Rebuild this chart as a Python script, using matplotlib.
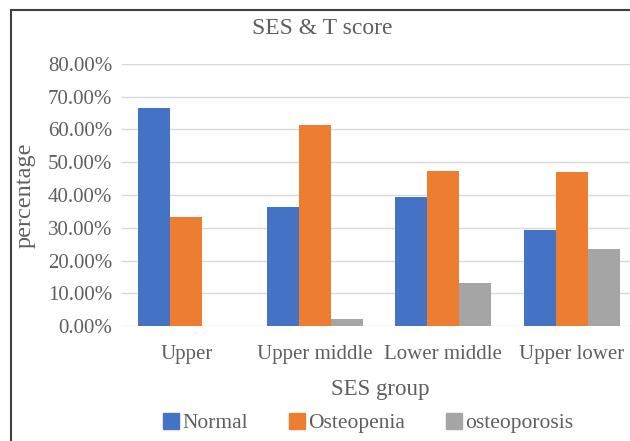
import matplotlib
matplotlib.use("Agg")
import matplotlib.pyplot as plt
import numpy as np
from matplotlib.patches import Rectangle
from matplotlib.lines import Line2D

categories = ["Upper", "Upper middle", "Lower middle", "Upper lower"]
normal = [66.67, 36.36, 39.47, 29.41]
osteopenia = [33.33, 61.36, 47.37, 47.06]
osteoporosis = [0.0, 2.27, 13.16, 23.53]
series_names = ["Normal", "Osteopenia", "osteoporosis"]
colors = ["#4472C4", "#ED7D31", "#A5A5A5"]
yticks = [0, 10, 20, 30, 40, 50, 60, 70, 80]

plt.rcParams['font.family'] = ['Liberation Serif', 'DejaVu Serif']
txt = "#5F5F5F"

W, H = 630, 441
fig = plt.figure(figsize=(W/100, H/100), dpi=100)
ax = fig.add_axes([122/W, 1-326/H, 514/W, (326-64)/H])

x = np.arange(len(categories))
bw = 0.25
for i, (vals, name, c) in enumerate(zip([normal, osteopenia, osteoporosis], series_names, colors)):
    ax.bar(x + (i-1)*bw, vals, width=bw, color=c, label=name, zorder=3)

ax.set_xlim(-0.5, len(categories)-0.5)
ax.set_ylim(0, 80)
ax.set_yticks(yticks)
ax.set_yticklabels([f"{v:.2f}%" for v in yticks])
ax.set_xticks(x)
ax.set_xticklabels(categories)
ax.tick_params(axis='both', length=0, colors=txt, labelsize=15)
ax.tick_params(axis='y', pad=7)
ax.tick_params(axis='x', pad=14)
ax.grid(axis='y', color="#D9D9D9", linewidth=1, zorder=0)
for s in ax.spines.values():
    s.set_visible(False)

fig.text(25/W, 1-195/H, "percentage", rotation=90, ha='center', va='center', color=txt, fontsize=17.5)
fig.text(380/W, 1-389/H, "SES group", ha='center', va='center', color=txt, fontsize=16.5)
fig.text(322/W, 1-29/H, "SES & T score", ha='center', va='center', color=txt, fontsize=17)

handles = [Rectangle((0, 0), 1, 1, color=c) for c in colors]
fig.legend(handles, series_names, loc='center', bbox_to_anchor=(368/W, 1-423/H),
           ncol=3, frameon=False, fontsize=15.5, labelcolor=txt,
           handlelength=0.75, handleheight=0.75, handletextpad=0.15, columnspacing=1.9,
           borderpad=0, borderaxespad=0)

# outer border
fig.add_artist(Line2D([10.5/W, 10.5/W], [0, 1-10/H], color="#404040", linewidth=1.5))
fig.add_artist(Line2D([10.5/W, 1], [1-10/H, 1-10/H], color="#404040", linewidth=1.5))

fig.savefig("out.png", dpi=100)
